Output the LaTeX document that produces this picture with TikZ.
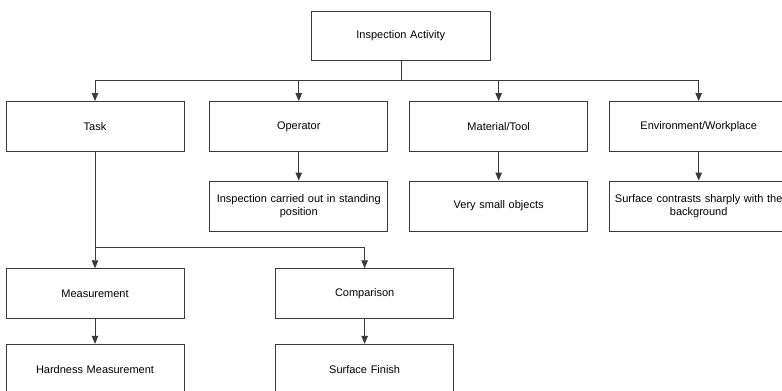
\documentclass[tikz,border=0pt]{standalone}
\usepackage{fontspec}
\setmainfont{Liberation Sans}
\usetikzlibrary{arrows.meta}
\definecolor{edge}{HTML}{3A3A3A}
\tikzset{
  box/.style={draw=edge, line width=0.9pt, rectangle, minimum width=178pt, minimum height=50pt,
    inner sep=0pt, align=center, text width=172pt, font=\fontsize{11}{13}\selectfont},
  link/.style={draw=edge, line width=0.9pt},
  arr/.style={link, -{Triangle[length=8pt,width=6.5pt]}},
}
\begin{document}
\begin{tikzpicture}[x=1pt, y=-1pt]
\useasboundingbox (0,0) rectangle (782,391);
\clip (0,0) rectangle (782,391);
% root
\node[box, minimum width=178.5pt, minimum height=49.5pt] (root) at (400.75,35.75) {Inspection Activity};
% first level
\node[box] (task) at (95,126.5) {Task};
\node[box] (oper) at (298.75,126.5) {Operator};
\node[box] (matl) at (498.65,126.5) {Material/Tool};
\node[box] (envr) at (698.7,126.5) {Environment/Workplace};
% details
\node[box] (stand) at (298.75,206) {Inspection carried out in standing\\position};
\node[box] (small) at (498.65,206) {Very small objects};
\node[box] (contr) at (698.7,206) {Surface contrasts sharply with the\\background};
% task branches
\node[box] (meas) at (95,293.7) {Measurement};
\node[box] (comp) at (364.65,293.7) {Comparison};
\node[box] (hard) at (95,369.3) {Hardness Measurement};
\node[box] (surf) at (364.65,369.3) {Surface Finish};
% bus from root
\coordinate (hub) at (401.3,80.3);
\coordinate (tbus) at (95,247.3);
\draw[link] (root.south -| hub) -- (hub);
\draw[arr] (hub) -| (task.north);
\draw[arr] (hub) -| (oper.north);
\draw[arr] (hub) -| (matl.north);
\draw[arr] (hub) -| (envr.north);
\draw[arr] (oper) -- (stand);
\draw[arr] (matl) -- (small);
\draw[arr] (envr) -- (contr);
\draw[link] (task.south) -- (tbus);
\draw[arr] (tbus) -- (meas.north);
\draw[arr] (tbus) -| (comp.north);
\draw[arr] (meas) -- (hard);
\draw[arr] (comp) -- (surf);
\end{tikzpicture}
\end{document}
